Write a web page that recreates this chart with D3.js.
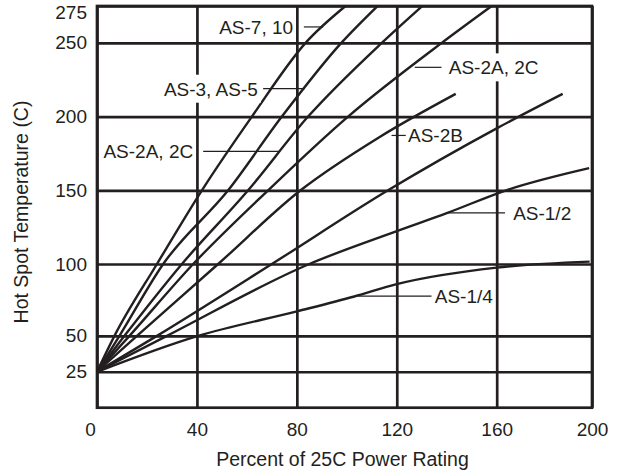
<!DOCTYPE html>
<html>
<head>
<meta charset="utf-8">
<script src="https://cdn.jsdelivr.net/npm/d3@7"></script>
<style>
  body { margin: 0; background: #fff; }
  text { font-family: "Liberation Sans", Arial, Helvetica, sans-serif; fill: #231f20; }
</style>
</head>
<body>
<svg id="chart" width="619" height="473"></svg>
<script>
// tick values
const xTicks = [0, 40, 80, 120, 160, 200];
const yTicks = [25, 50, 100, 150, 200, 250, 275];

// curves as [percent power, hot spot temp]
const as710 = [[0, 25], [7, 50], [24, 100], [42, 150], [62, 200], [83.5, 250], [99.5, 275]];
const as3as5 = [[0, 25], [9, 50], [26.5, 100], [52.5, 150], [74, 200], [97.8, 250], [112.3, 275]];
const as2a2cA = [[0, 25], [11, 50], [34, 100], [60.5, 150], [84.5, 200], [114, 250], [130.2, 275]];
const as2a2cB = [[0, 25], [13, 50], [38.5, 100], [68.5, 150], [100.5, 200], [138, 250], [158, 275]];
const as2b = [[0, 25], [16, 50], [48.5, 100], [81.5, 150], [113, 186], [143.6, 215.4]];
const as2x = [[0, 25], [24, 50], [70, 100], [116.5, 150], [160, 192], [187.7, 215.4]];
const as12 = [[0, 25], [28, 50], [85, 100], [120, 122.3], [140, 134.5], [164, 150], [198.8, 165]];
const as14 = [[0, 25], [40.5, 50], [80, 67], [103, 77.4], [120, 86], [160, 97.5], [199, 101.6]];

const curves = [as710, as3as5, as2a2cA, as2a2cB, as2b, as2x, as12, as14];

// callout labels: text, leader from lx1 to lx2 at height ly, text at tx
const labelText = ["AS-7, 10", "AS-3, AS-5", "AS-2A, 2C", "AS-2A, 2C", "AS-2B", "AS-1/2", "AS-1/4"];
const labelLx1 = [82.8, 66.5, 42.5, 127.2, 117.9, 139.9, 103.2];
const labelLx2 = [90.5, 83.2, 73.2, 137.9, 123.6, 163.5, 133.9];
const labelLy = [260.8, 218.9, 176.4, 233.4, 187.2, 134.7, 77.6];
const labelTx = [78.5, 64.4, 38.5, 140.8, 124.5, 166.9, 135.2];
const labelAnchor = ["end", "end", "end", "start", "start", "start", "start"];
const labelKnockout = [false, true, false, true, false, false, false];

const ink = "#231f20";
const svg = d3.select("#chart");

const x = d3.scaleLinear().domain([0, 160, 200]).range([97, 496.7, 592]);
const y = d3.scaleLinear().domain([0, 100, 275]).range([407.7, 264, 6]);

const plotL = x(0), plotR = x(200), plotT = y(275), plotB = y(0);

// grid via axes
const gx = svg.append("g")
    .attr("transform", `translate(0,${plotB})`)
    .call(d3.axisBottom(x).tickValues(xTicks).tickFormat(d3.format("d"))
        .tickSize(-(plotB - plotT)).tickPadding(15));
const gy = svg.append("g")
    .attr("transform", `translate(${plotL},0)`)
    .call(d3.axisLeft(y).tickValues(yTicks).tickFormat(d3.format("d"))
        .tickSize(-(plotR - plotL)).tickPadding(10));

[gx, gy].forEach(g => {
    g.select(".domain").remove();
    g.selectAll(".tick line").attr("stroke", ink).attr("stroke-width", 2.7);
    g.selectAll(".tick text").style("font-size", "19px").attr("fill", ink);
});
gx.selectAll(".tick").filter(d => d === 0).select("text").attr("x", -7);
gy.selectAll(".tick").filter(d => d === 275).select("text").attr("y", 6);

// frame
svg.append("rect")
    .attr("x", plotL).attr("y", plotT)
    .attr("width", plotR - plotL).attr("height", plotB - plotT)
    .attr("fill", "none").attr("stroke", ink).attr("stroke-width", 2.7);

// curves
const line = d3.line()
    .x(d => x(d[0]))
    .y(d => y(d[1]))
    .curve(d3.curveMonotoneX);

svg.append("g").selectAll("path")
    .data(curves)
    .join("path")
    .attr("d", line)
    .attr("fill", "none")
    .attr("stroke", ink)
    .attr("stroke-width", 2.4);

// callouts
const callouts = svg.append("g");
labelText.forEach((t, i) => {
    const ly = y(labelLy[i]);
    callouts.append("line")
        .attr("x1", x(labelLx1[i])).attr("x2", x(labelLx2[i]))
        .attr("y1", ly).attr("y2", ly)
        .attr("stroke", ink).attr("stroke-width", 1.2);
    const bg = callouts.append("rect").attr("fill", "#fff");
    const txt = callouts.append("text")
        .attr("x", x(labelTx[i]))
        .attr("y", ly)
        .attr("dy", "0.36em")
        .attr("text-anchor", labelAnchor[i])
        .style("font-size", "19px")
        .text(t);
    if (labelKnockout[i]) {
        // white box behind the text so grid lines break around it
        const b = txt.node().getBBox();
        bg.attr("x", b.x - 3).attr("y", ly - 14)
            .attr("width", b.width + 6).attr("height", 28);
    } else {
        bg.remove();
    }
});

// axis titles
svg.append("text")
    .attr("x", (plotL + plotR) / 2 - 2)
    .attr("y", 466)
    .attr("text-anchor", "middle")
    .style("font-size", "19.5px")
    .text("Percent of 25C Power Rating");

svg.append("text")
    .attr("transform", "translate(28,212) rotate(-90)")
    .attr("text-anchor", "middle")
    .style("font-size", "19.5px")
    .text("Hot Spot Temperature (C)");
</script>
</body>
</html>
